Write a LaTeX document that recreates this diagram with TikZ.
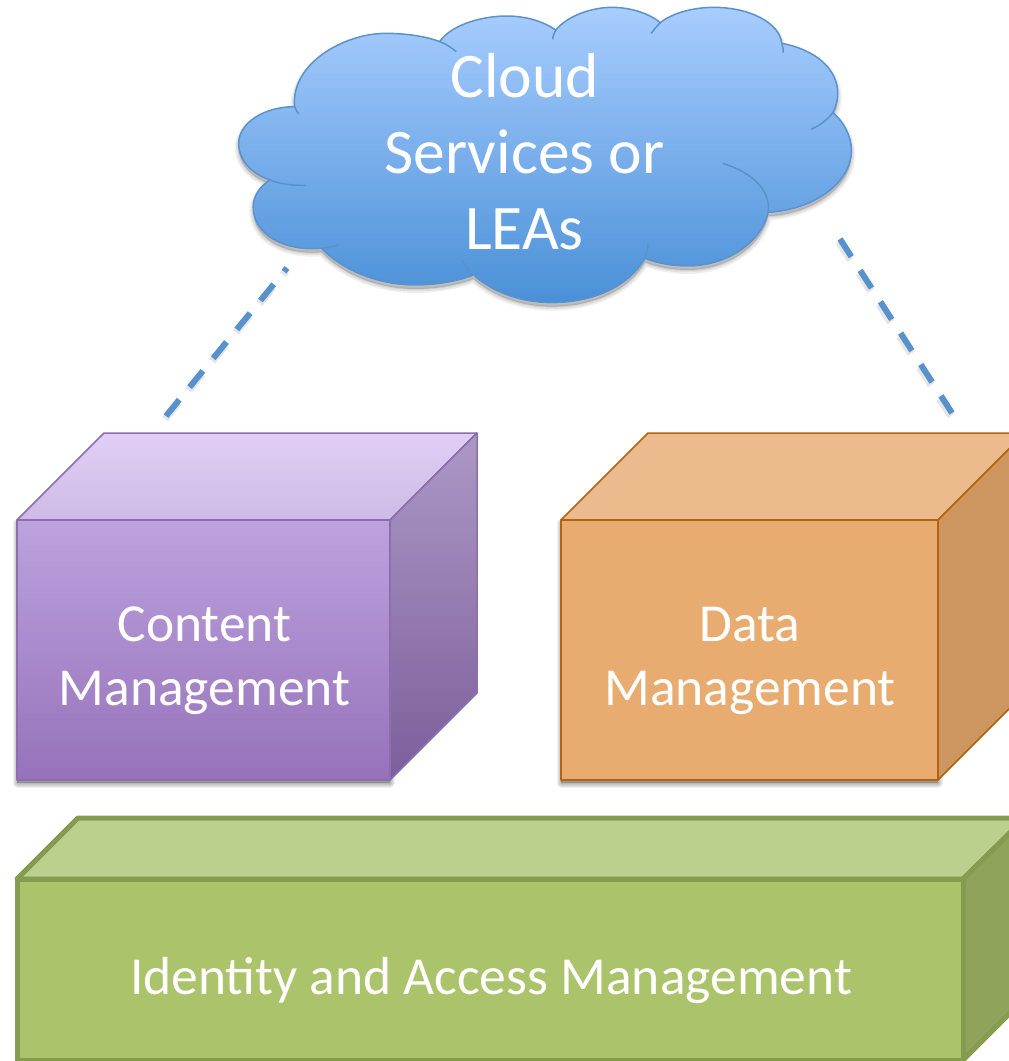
\documentclass[tikz,border=0pt]{standalone}
\usepackage{fontspec}
\setmainfont{Carlito}
\definecolor{cloudline}{RGB}{92,146,202}
\definecolor{dashc}{RGB}{88,146,205}
\definecolor{purpleline}{RGB}{140,110,175}
\definecolor{orangeline}{RGB}{178,100,18}
\definecolor{greenline}{RGB}{133,155,80}
\tikzset{
  x=1pt,y=-1pt,
  boxlabel/.style={text=white,align=center,font=\fontsize{53.5}{64}\selectfont,inner sep=0pt},
  cloudlabel/.style={text=white,align=center,font=\fontsize{63.5}{76}\selectfont,inner sep=0pt},
  link/.style={dashc,line width=6pt,dash pattern=on 21pt off 16.3pt},
  linkshade/.style={black,opacity=.10,line width=7.5pt,dash pattern=on 21pt off 16.3pt,transform canvas={shift={(-1pt,-3pt)}}},
  softshade/.style={draw=black,draw opacity=.06,fill=black,fill opacity=.06,line join=round},
}
\newcommand{\softlayers}[1]{%
  \foreach \w in {1,3,5,7,9}{\path[softshade,line width=\w pt,yshift=-3pt] #1;}}
\newcommand{\cloudpath}{(180,320)
 .. controls (170,190) and (300,100) .. (400,100)
 .. controls (450,100) and (500,110) .. (530,125)
 .. controls (560,70) and (640,48) .. (690,48)
 .. controls (740,48) and (780,65) .. (810,90)
 .. controls (840,45) and (900,22) .. (945,22)
 .. controls (990,22) and (1035,40) .. (1062,68)
 .. controls (1095,35) and (1150,22) .. (1190,22)
 .. controls (1280,22) and (1350,70) .. (1355,130)
 .. controls (1440,150) and (1490,210) .. (1490,280)
 .. controls (1490,300) and (1486,320) .. (1478,338)
 .. controls (1505,365) and (1523,410) .. (1523,450)
 .. controls (1523,550) and (1430,630) .. (1322,637)
 .. controls (1305,730) and (1220,798) .. (1130,798)
 .. controls (1090,798) and (1055,790) .. (1025,775)
 .. controls (985,860) and (900,908) .. (800,908)
 .. controls (725,908) and (655,875) .. (612,825)
 .. controls (570,845) and (520,855) .. (470,855)
 .. controls (380,855) and (295,810) .. (245,745)
 .. controls (150,755) and (80,700) .. (80,620)
 .. controls (80,590) and (95,560) .. (120,540)
 .. controls (75,520) and (45,480) .. (45,430)
 .. controls (45,370) and (105,320) .. (180,320) -- cycle}
\begin{document}
\begin{tikzpicture}
\useasboundingbox (0,0) rectangle (1009,1061);
\fill[white] (0,0) rectangle (1009,1061);
\clip (0,0) rectangle (1009,1061);

% cloud
\begin{scope}[shift={(220,0)},x=0.4146pt,y=-0.3333pt]
  \foreach \w in {2,5,8}{\path[softshade,line width=\w pt,yshift=-4pt] \cloudpath;}
  \path[top color={rgb,255:red,168;green,205;blue,255},bottom color={rgb,255:red,74;green,144;blue,215},draw=cloudline,line width=1.5pt] \cloudpath;
  \draw[cloudline,line width=1.5pt]
    (530,125) .. controls (545,132) and (558,143) .. (570,155)
    (810,90) .. controls (806,98) and (803,108) .. (802,118)
    (1062,68) .. controls (1054,78) and (1046,90) .. (1040,100)
    (1355,130) .. controls (1358,140) and (1359,150) .. (1358,158)
    (1478,338) .. controls (1465,360) and (1445,378) .. (1425,388)
    (1212,490) .. controls (1280,515) and (1330,570) .. (1322,637)
    (1025,775) .. controls (1030,760) and (1032,745) .. (1032,730)
    (612,825) .. controls (600,812) and (592,798) .. (585,782)
    (245,745) .. controls (260,744) and (272,740) .. (285,735)
    (120,540) .. controls (145,552) and (175,557) .. (207,556)
    (180,320) .. controls (182,328) and (186,336) .. (190,342);
\end{scope}
\node[cloudlabel] (cloud) at (524.5,151.5) {Cloud\\Services or\\LEAs};

% purple box
\softlayers{(17,520) rectangle (390,780)}
\path[top color={rgb,255:red,226;green,207;blue,246},bottom color={rgb,255:red,205;green,186;blue,230},draw=purpleline,line width=1.5pt,line join=round]
  (17,520) -- (104,433) -- (477,433) -- (390,520) -- cycle;
\path[top color={rgb,255:red,172;green,152;blue,198},bottom color={rgb,255:red,124;green,94;blue,155},draw=purpleline,line width=1.5pt,line join=round]
  (390,520) -- (477,433) -- (477,693) -- (390,780) -- cycle;
\path[top color={rgb,255:red,188;green,162;blue,222},bottom color={rgb,255:red,150;green,114;blue,186},draw=purpleline,line width=1.5pt,line join=round]
  (17,520) rectangle (390,780);
\node[boxlabel] (content) at (204.5,661) {Content\\Management};

% orange box
\softlayers{(561,520) rectangle (938,780)}
\path[fill={rgb,255:red,235;green,186;blue,141},draw=orangeline,line width=1.5pt,line join=round]
  (561,520) -- (648,433) -- (1025,433) -- (938,520) -- cycle;
\path[fill={rgb,255:red,205;green,150;blue,96},draw=orangeline,line width=1.5pt,line join=round]
  (938,520) -- (1025,433) -- (1025,693) -- (938,780) -- cycle;
\path[fill={rgb,255:red,232;green,172;blue,112},draw=orangeline,line width=1.5pt,line join=round]
  (561,520) rectangle (938,780);
\node[boxlabel] (data) at (750,661) {Data\\Management};

% green box
\path[fill={rgb,255:red,188;green,208;blue,141},draw=greenline,line width=5pt,line join=round]
  (17,879) -- (78,818) -- (1025,818) -- (963,879) -- cycle;
\path[fill={rgb,255:red,143;green,163;blue,90},draw=greenline,line width=5pt,line join=round]
  (963,879) -- (1025,818) -- (1025,998) -- (963,1060) -- cycle;
\path[fill={rgb,255:red,171;green,196;blue,107},draw=greenline,line width=5pt,line join=round]
  (17,879) rectangle (963,1060);
\node[boxlabel] (iam) at (491,980.5) {Identity and Access Management};

% connectors
\coordinate (cloudL) at (287,268);
\coordinate (cloudR) at (840,239);
\coordinate (contentTop) at (166,416);
\coordinate (dataTop) at (952,413);
\draw[linkshade] (contentTop) -- (cloudL);
\draw[linkshade] (cloudR) -- (dataTop);
\draw[link] (contentTop) -- (cloudL);
\draw[link] (cloudR) -- (dataTop);
\end{tikzpicture}
\end{document}
